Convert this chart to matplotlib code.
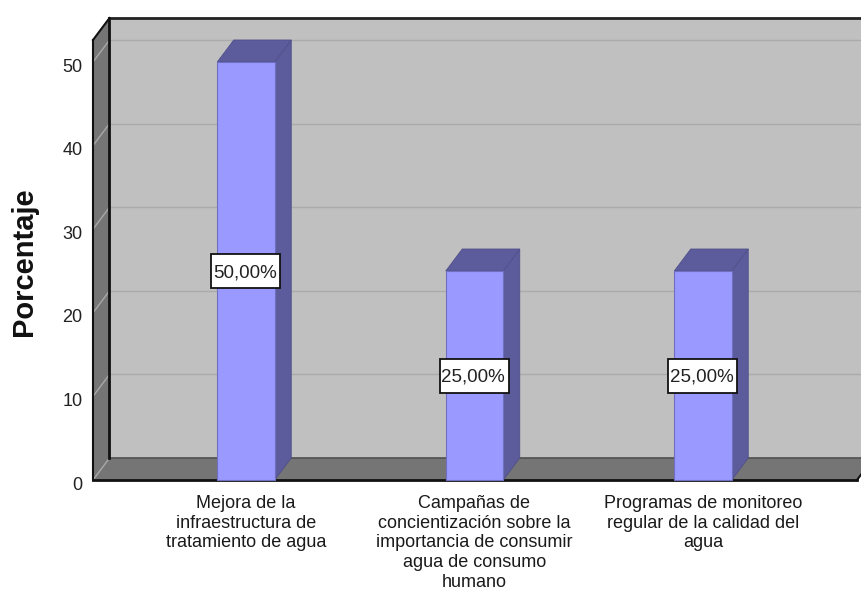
import matplotlib
matplotlib.use("Agg")
import matplotlib.pyplot as plt
from matplotlib.patches import Polygon, Rectangle
from matplotlib.transforms import ScaledTranslation

plt.rcParams['font.family'] = ['Liberation Sans', 'DejaVu Sans']

categories = ["Mejora de la\ninfraestructura de\ntratamiento de agua",
              "Campañas de\nconcientización sobre la\nimportancia de consumir\nagua de consumo\nhumano",
              "Programas de monitoreo\nregular de la calidad del\nagua"]
values = [50, 25, 25]
value_labels = ["50,00%", "25,00%", "25,00%"]
yticks = [0, 10, 20, 30, 40, 50]

W, H = 862, 590
left, right, bottom, top = 93, 857, 480, 18
px_per_cat = 228.5
px_per_unit = 8.36
x_first = 246

fig = plt.figure(figsize=(W / 100, H / 100), dpi=100)
ax = fig.add_axes([left / W, 1 - bottom / H, (right - left) / W, (bottom - top) / H])
ax.set_xlim((left - x_first) / px_per_cat, (right - x_first) / px_per_cat)
ax.set_ylim(0, (bottom - top) / px_per_unit)
xmin, xmax = ax.get_xlim()
ymax = ax.get_ylim()[1]

#depth of the fake 3D box, in data units
dx = 16.5 / px_per_cat
dy = 22 / px_per_unit
bar_w = 57.5 / px_per_cat
box_w = 69 / px_per_cat
box_h = 34 / px_per_unit

def poly(pts, fc, z, ec="none", lw=0):
    ax.add_patch(Polygon(pts, closed=True, facecolor=fc, edgecolor=ec, linewidth=lw, zorder=z, clip_on=False))

#back wall, left wall, floor
poly([(xmin + dx, dy), (xmax + dx, dy), (xmax + dx, ymax), (xmin + dx, ymax)], "#C0C0C0", 1)
poly([(xmin, 0), (xmin + dx, dy), (xmin + dx, ymax), (xmin, ymax - dy)], "#757575", 1)
poly([(xmin, 0), (xmax, 0), (xmax + dx, dy), (xmin + dx, dy)], "#757575", 1)

#gridlines
for t in yticks:
    if t > 0:
        ax.plot([xmin + dx, xmax + dx], [t + dy, t + dy], color="#ABABAB", lw=1, zorder=2, clip_on=False)
    ax.plot([xmin, xmin + dx], [t, t + dy], color="#A8A8A8", lw=1, zorder=2, clip_on=False)

#box outlines
ax.plot([xmin + dx, xmax + dx], [dy, dy], color="#505050", lw=1.2, zorder=2, clip_on=False)
ax.plot([xmin + dx, xmin + dx], [dy, ymax], color="#111111", lw=2, zorder=3, clip_on=False)
ax.plot([xmin + dx, xmax + dx], [ymax, ymax], color="#222222", lw=2, zorder=3, clip_on=False)
ax.plot([xmin, xmin + dx], [ymax - dy, ymax], color="#111111", lw=1.5, zorder=3, clip_on=False)
ax.plot([xmin, xmin], [0, ymax - dy], color="#111111", lw=1.5, zorder=3, clip_on=False)
ax.plot([xmin, xmax], [0, 0], color="#111111", lw=2, zorder=3, clip_on=False)
ax.plot([xmax, xmax + dx], [0, dy], color="#111111", lw=1.5, zorder=3, clip_on=False)

#bars
for i, v in enumerate(values):
    x0 = i - bar_w / 2
    x1 = i + bar_w / 2
    poly([(x1, 0), (x1 + dx, dy), (x1 + dx, v + dy), (x1, v)], "#5C5C9C", 4, "#50508A", 0.6)
    poly([(x0, v), (x1, v), (x1 + dx, v + dy), (x0 + dx, v + dy)], "#5C5C9C", 4, "#50508A", 0.6)
    poly([(x0, 0), (x1, 0), (x1, v), (x0, v)], "#9999FF", 5, "#6F6FC0", 0.8)
    ax.add_patch(Rectangle((i - box_w / 2, v / 2 - box_h / 2), box_w, box_h, facecolor="white",
                           edgecolor="#111111", linewidth=1.3, zorder=6))
    ax.annotate(value_labels[i], (i, v / 2), xytext=(-1, -1.2), textcoords="offset points",
                ha="center", va="center", fontsize=13.5, color="#222222", zorder=7)

ax.set_xticks(range(len(categories)))
ax.set_xticklabels(categories, fontsize=13, color="#1a1a1a", linespacing=1.2)
ax.set_yticks(yticks)
ax.set_yticklabels([str(t) for t in yticks], fontsize=13, color="#222222")
ax.tick_params(axis="x", length=0, pad=11)
ax.tick_params(axis="y", length=0, pad=7.5)
#y labels sit a little under their gridline in the original
shift = ScaledTranslation(0, -3 / 100, fig.dpi_scale_trans)
for lab in ax.get_yticklabels():
    lab.set_transform(lab.get_transform() + shift)
for s in ax.spines.values():
    s.set_visible(False)
ax.patch.set_visible(False)

fig.text(24 / W, 1 - 261.5 / H, "Porcentaje", rotation=90, ha="center", va="center", fontsize=21, fontweight="bold", color="#111111")

fig.savefig("out.png", dpi=100)
